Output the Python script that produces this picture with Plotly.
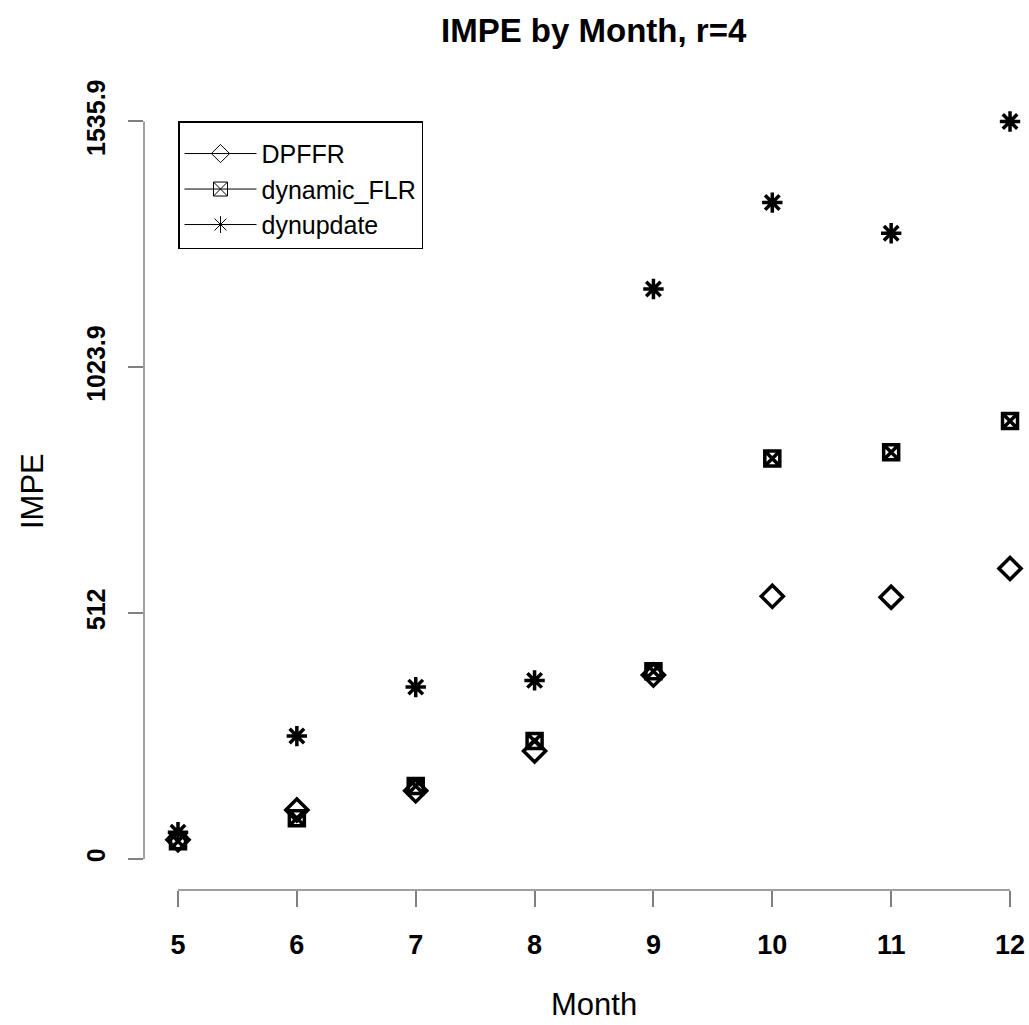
import plotly.graph_objects as go

months = [5, 6, 7, 8, 9, 10, 11, 12]
dpffr = [40, 102, 142, 225, 383, 547, 545, 605]
dynamic_flr = [37, 85, 152, 246, 391, 834, 847, 912]
dynupdate = [56, 256, 358, 372, 1187, 1367, 1303, 1535.9]
ytick_vals = [0, 512, 1023.9, 1535.9]
ytick_text = ["0", "512", "1023.9", "1535.9"]
series_names = ["DPFFR", "dynamic_FLR", "dynupdate"]

FONT = "Liberation Sans, Arial, sans-serif"
W, H = 1029, 1025
L, R, T, B = 144, 0, 91.5, 135
pw = W - L - R
ph = H - T - B
xpx = 118.86          # px per month
ypx = 738 / 1535.9    # px per unit
x0 = 5 - (178 - L) / xpx
x1 = x0 + pw / xpx
y0 = -(890 - 859) / ypx
y1 = y0 + ph / ypx

symbols = ["diamond-open", "square-x-open", "asterisk-open"]
sizes = [17, 15, 17]
series = [dpffr, dynamic_flr, dynupdate]

fig = go.Figure()
for name, vals, sym, sz in zip(series_names, series, symbols, sizes):
    fig.add_trace(go.Scatter(
        x=months, y=vals, mode="markers", showlegend=False,
        marker=dict(symbol=sym, size=sz, color="black",
                    line=dict(color="black", width=3.5)),
    ))
for name, sym in zip(series_names, symbols):
    fig.add_trace(go.Scatter(
        x=[None], y=[None], mode="lines+markers", name=name,
        line=dict(color="black", width=1),
        marker=dict(symbol=sym, size=14, color="black",
                    line=dict(color="black", width=1)),
    ))

# axis lines (R style: span only the data range)
fig.add_shape(type="line", xref="x", yref="paper", x0=months[0], x1=months[-1],
              y0=0, y1=0, line=dict(color="#808080", width=1.5))
fig.add_shape(type="line", xref="paper", yref="y", x0=0, x1=0,
              y0=ytick_vals[0], y1=ytick_vals[-1], line=dict(color="#808080", width=1.5))

cx = ((L + 1043) / 2 - L) / pw
fig.add_annotation(text="<b>IMPE by Month, r=4</b>", xref="paper", yref="paper",
                   x=cx, y=1 + (T - 30) / ph, yanchor="middle", xanchor="center",
                   showarrow=False, font=dict(family=FONT, size=33, color="black"))
fig.add_annotation(text="Month", xref="paper", yref="paper",
                   x=cx, y=-(1005 - (H - B)) / ph, yanchor="middle", xanchor="center",
                   showarrow=False, font=dict(family=FONT, size=31, color="black"))
fig.add_annotation(text="IMPE", xref="paper", yref="paper", textangle=-90,
                   x=-(L - 32) / pw, y=0.5, yanchor="middle", xanchor="center",
                   showarrow=False, font=dict(family=FONT, size=31, color="black"))

fig.update_layout(
    width=W, height=H,
    margin=dict(l=L, r=R, t=T, b=B),
    plot_bgcolor="white", paper_bgcolor="white",
    font=dict(family=FONT, color="black"),
    legend=dict(x=(178 - L) / pw, y=(890 - 121) / ph, xanchor="left", yanchor="top",
                bordercolor="black", borderwidth=1.5, bgcolor="white",
                font=dict(family=FONT, size=25, color="black"),
                title=dict(text=" ", font=dict(size=6)),
                itemwidth=72, tracegroupgap=0),
)
fig.update_xaxes(range=[x0, x1], showgrid=False, zeroline=False, showline=False,
                 tickmode="array", tickvals=months,
                 ticktext=[f"<b>{m}</b>" for m in months],
                 ticks="outside", ticklen=16, tickwidth=1.5, tickcolor="#808080",
                 tickfont=dict(family=FONT, size=27, color="black"),
                 ticklabelstandoff=15)
fig.update_yaxes(range=[y0, y1], showgrid=False, zeroline=False, showline=False,
                 tickmode="array", tickvals=ytick_vals,
                 ticktext=[f"<b>{t}</b>" for t in ytick_text],
                 ticks="outside", ticklen=15, tickwidth=1.5, tickcolor="#808080",
                 tickangle=-90,
                 tickfont=dict(family=FONT, size=25, color="black"),
                 ticklabelstandoff=13)

fig.write_html("out.html")
